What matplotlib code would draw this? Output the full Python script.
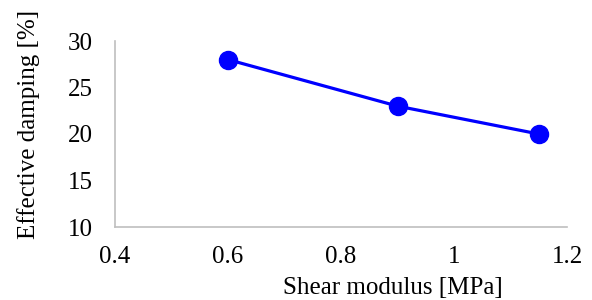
import matplotlib
matplotlib.use("Agg")
import matplotlib.pyplot as plt

shear_modulus = [0.6, 0.9, 1.15]
effective_damping = [28, 23, 20]
x_ticks = [0.4, 0.6, 0.8, 1.0, 1.2]
x_tick_labels = ["0.4", "0.6", "0.8", "1", "1.2"]
y_ticks = [10, 15, 20, 25, 30]

plt.rcParams['font.family'] = ['Liberation Serif', 'DejaVu Serif']

fig = plt.figure(figsize=(5.92, 3.0), dpi=100)
ax = fig.add_axes([115/592, 1-227/300, 452/592, 186/300])
ax.plot(shear_modulus, effective_damping, color='#0000ff', lw=2.3,
        marker='o', markersize=13, clip_on=False)
ax.set_xlim(0.4, 1.2)
ax.set_ylim(10, 30)
ax.set_xticks(x_ticks)
ax.set_xticklabels(x_tick_labels)
ax.set_yticks(y_ticks)
ax.tick_params(length=0, labelsize=18, colors='black')
ax.tick_params(axis='y', pad=16)
ax.tick_params(axis='x', pad=14)
for s in ['top', 'right']:
    ax.spines[s].set_visible(False)
for s in ['left', 'bottom']:
    ax.spines[s].set_color('#bfbfbf')
    ax.spines[s].set_linewidth(1.2)
ax.set_xlabel('Shear modulus [MPa]', fontsize=18)
ax.xaxis.set_label_coords(0.615, -0.27)
ax.set_ylabel('Effective damping [%]', fontsize=18)
ax.yaxis.set_label_coords(-0.165, 0.55)
fig.savefig('out.png', dpi=100)
